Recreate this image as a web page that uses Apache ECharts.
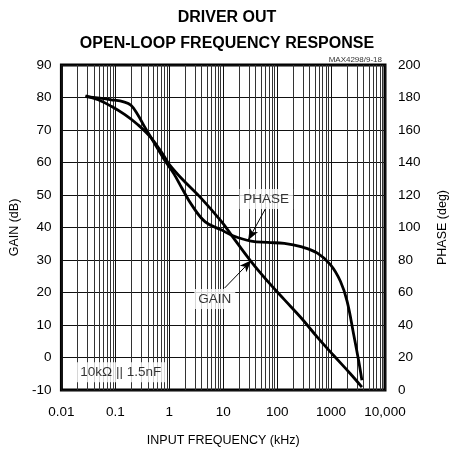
<!DOCTYPE html>
<html>
<head>
<meta charset="utf-8">
<script src="https://cdn.jsdelivr.net/npm/echarts@6/dist/echarts.min.js"></script>
<style>
  html, body { margin: 0; padding: 0; background: #fff; }
  #chart { width: 458px; height: 452px; }
</style>
</head>
<body>
<div id="chart"></div>
<script>
// tick labels of the log frequency axis (kHz)
var freqTickLabels = ['0.01', '0.1', '1', '10', '100', '1000', '10,000'];

// gain curve
var gainFreq = [0.028, 0.048, 0.084, 0.148, 0.259, 0.454, 0.8, 0.99, 1.73, 4.0, 9.4, 14.3, 33, 67, 136, 275, 560, 1120, 2280, 3730];
var gainDb   = [80.5, 79.3, 77.3, 74.8, 71.7, 67.7, 62.0, 59.5, 54.9, 48.8, 41.7, 37.6, 29.5, 23.4, 17.8, 12.3, 6.2, 0.6, -5.0, -9.1];

// phase curve
var phaseFreq = [0.028, 0.084, 0.148, 0.195, 0.259, 0.343, 0.524, 0.8, 1.22, 1.73, 2.64, 4.64, 9.4, 14.3, 33, 67, 136, 275, 558, 980, 1490, 1980, 2620, 3240, 3730];
var phaseDeg  = [180.5, 178.6, 177.2, 175.2, 169.6, 162.4, 152.2, 142, 133, 124, 113.6, 103.5, 98.4, 95.3, 91.6, 90.8, 90.2, 88.2, 84.2, 77, 66.9, 54.7, 34.3, 18.1, 6];

var font = 'Liberation Sans';

function pairs(xs, ys) {
  return xs.map(function (x, i) { return [x, ys[i]]; });
}

// minor log grid lines (2..9 of every decade)
var minorLines = [];
[0.01, 0.1, 1, 10, 100, 1000].forEach(function (d) {
  for (var m = 2; m <= 9; m++) {
    minorLines.push({ xAxis: +(d * m).toPrecision(3) });
  }
});

var myChart = echarts.init(document.getElementById('chart'));
myChart.setOption({
  animation: false,
  title: [
    {
      text: 'DRIVER OUT',
      left: 222, top: 5, textAlign: 'center',
      textStyle: { fontFamily: font, fontSize: 16, fontWeight: 'bold', color: '#000' }
    },
    {
      text: 'OPEN-LOOP FREQUENCY RESPONSE',
      left: 222, top: 31, textAlign: 'center',
      textStyle: { fontFamily: font, fontSize: 16, fontWeight: 'bold', color: '#000' }
    },
    {
      text: 'MAX4298/9-18',
      right: 71, top: 51,
      textStyle: { fontFamily: font, fontSize: 8, fontWeight: 'normal', color: '#333' }
    }
  ],
  grid: { left: 58, right: 73, top: 65, bottom: 59, show: true, borderColor: '#000', borderWidth: 3 },
  xAxis: {
    type: 'log',
    logBase: 10,
    min: 0.01,
    max: 10000,
    splitNumber: 6,
    name: 'INPUT FREQUENCY (kHz)',
    nameLocation: 'middle',
    nameGap: 44,
    nameTextStyle: { fontFamily: font, fontSize: 12.5, color: '#000' },
    axisLine: { show: false },
    axisTick: { show: false },
    axisLabel: {
      margin: 15,
      fontFamily: font, fontSize: 13.5, color: '#000',
      formatter: function (v) {
        return freqTickLabels[Math.round(Math.log10(v)) + 2];
      }
    },
    splitLine: { show: true, lineStyle: { color: '#111', width: 1 } }
  },
  yAxis: [
    {
      type: 'value',
      min: -10, max: 90, interval: 10,
      name: 'GAIN (dB)',
      nameLocation: 'middle',
      nameGap: 30,
      nameTextStyle: { fontFamily: font, fontSize: 12.5, color: '#000' },
      axisLine: { show: false },
      axisTick: { show: false },
      axisLabel: { margin: 10, fontFamily: font, fontSize: 13.5, color: '#000' },
      splitLine: { show: true, lineStyle: { color: '#111', width: 1 } }
    },
    {
      type: 'value',
      min: 0, max: 200, interval: 20,
      position: 'right',
      name: 'PHASE (deg)',
      nameLocation: 'middle',
      nameGap: 51,
      nameRotate: 90,
      nameTextStyle: { fontFamily: font, fontSize: 12.5, color: '#000' },
      axisLine: { show: false },
      axisTick: { show: false },
      axisLabel: { margin: 13, fontFamily: font, fontSize: 13.5, color: '#000' },
      splitLine: { show: false }
    }
  ],
  series: [
    {
      // minor grid lines
      name: 'grid',
      type: 'line',
      data: [],
      silent: true,
      z: 1,
      markLine: {
        silent: true,
        z: 1,
        symbol: 'none',
        label: { show: false },
        lineStyle: { color: '#333', width: 1, type: 'solid' },
        data: minorLines
      }
    },
    {
      name: 'GAIN',
      type: 'line',
      yAxisIndex: 0,
      data: pairs(gainFreq, gainDb),
      smooth: 0.4,
      showSymbol: false,
      z: 3,
      lineStyle: { color: '#000', width: 2.8 }
    },
    {
      name: 'PHASE',
      type: 'line',
      yAxisIndex: 1,
      data: pairs(phaseFreq, phaseDeg),
      smooth: 0.4,
      showSymbol: false,
      z: 3,
      lineStyle: { color: '#000', width: 2.8 }
    },
    {
      // callout labels
      name: 'labels',
      type: 'scatter',
      yAxisIndex: 0,
      symbolSize: 0,
      silent: true,
      z: 4,
      label: {
        show: true,
        position: 'inside',
        fontFamily: font,
        fontSize: 13.5,
        color: '#000',
        backgroundColor: '#fff',
        padding: [3, 4, 3, 4],
        formatter: function (p) { return p.data[2]; }
      },
      data: [
        [62.8, 48.8, 'PHASE'],
        [6.98, 18.0, 'GAIN'],
        [0.126, -4.5, '10k\u03A9 || 1.5nF']
      ],
      markLine: {
        silent: true,
        z: 4,
        symbol: ['none', 'arrow'],
        symbolSize: [7, 12],
        label: { show: false },
        lineStyle: { color: '#000', width: 1, type: 'solid' },
        data: [
          [{ coord: [62.8, 46.2] }, { coord: [29, 36.1] }],
          [{ coord: [10.66, 21.4] }, { coord: [33.3, 29.9] }]
        ]
      }
    }
  ]
});
</script>
</body>
</html>
